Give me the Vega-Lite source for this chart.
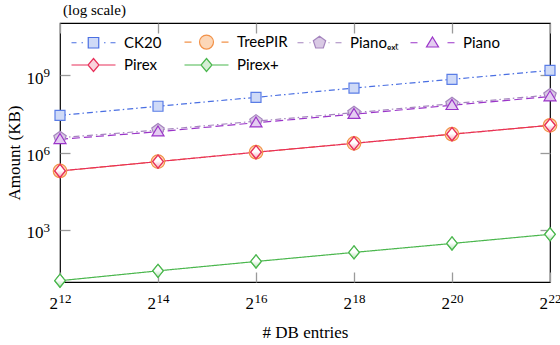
{
  "$schema": "https://vega.github.io/schema/vega-lite/v6.json",
  "width": 490,
  "height": 259,
  "autosize": {"type": "none"},
  "padding": {"left": 60, "top": 23, "right": 10, "bottom": 63},
  "background": "white",
  "title": {"text": "(log scale)", "anchor": "start", "frame": "group", "offset": 4, "dx": 3, "font": "Liberation Serif", "fontSize": 15, "fontWeight": "normal", "color": "black"},
  "config": {
    "view": {"stroke": "black", "strokeWidth": 1.2},
    "axis": {"grid": false, "domain": false, "tickColor": "#9a9a9a", "tickWidth": 1.3, "tickSize": -10, "labelColor": "black", "labelFont": "Liberation Serif", "labelFontSize": 17, "titleFont": "Liberation Serif", "titleFontSize": 17, "titleFontWeight": "normal", "titleColor": "black", "labelFlush": false, "labelOverlap": false}
  },
  "data": {"values": [
    {"series": "CK20", "N": 4096, "amount": 2.8e7},
    {"series": "CK20", "N": 16384, "amount": 6.3e7},
    {"series": "CK20", "N": 65536, "amount": 1.4e8},
    {"series": "CK20", "N": 262144, "amount": 3.2e8},
    {"series": "CK20", "N": 1048576, "amount": 7.0e8},
    {"series": "CK20", "N": 4194304, "amount": 1.55e9},
    {"series": "TreePIR", "N": 4096, "amount": 1.95e5},
    {"series": "TreePIR", "N": 16384, "amount": 4.5e5},
    {"series": "TreePIR", "N": 65536, "amount": 1.04e6},
    {"series": "TreePIR", "N": 262144, "amount": 2.3e6},
    {"series": "TreePIR", "N": 1048576, "amount": 5.2e6},
    {"series": "TreePIR", "N": 4194304, "amount": 1.15e7},
    {"series": "Pianoₑₓₜ", "N": 4096, "amount": 3.8e6},
    {"series": "Pianoₑₓₜ", "N": 16384, "amount": 7.5e6},
    {"series": "Pianoₑₓₜ", "N": 65536, "amount": 1.67e7},
    {"series": "Pianoₑₓₜ", "N": 262144, "amount": 3.55e7},
    {"series": "Pianoₑₓₜ", "N": 1048576, "amount": 7.9e7},
    {"series": "Pianoₑₓₜ", "N": 4194304, "amount": 1.72e8},
    {"series": "Piano", "N": 4096, "amount": 3.3e6},
    {"series": "Piano", "N": 16384, "amount": 6.5e6},
    {"series": "Piano", "N": 65536, "amount": 1.45e7},
    {"series": "Piano", "N": 262144, "amount": 3.1e7},
    {"series": "Piano", "N": 1048576, "amount": 6.9e7},
    {"series": "Piano", "N": 4194304, "amount": 1.5e8},
    {"series": "Pirex", "N": 4096, "amount": 1.95e5},
    {"series": "Pirex", "N": 16384, "amount": 4.5e5},
    {"series": "Pirex", "N": 65536, "amount": 1.04e6},
    {"series": "Pirex", "N": 262144, "amount": 2.3e6},
    {"series": "Pirex", "N": 1048576, "amount": 5.2e6},
    {"series": "Pirex", "N": 4194304, "amount": 1.15e7},
    {"series": "Pirex+", "N": 4096, "amount": 10.8},
    {"series": "Pirex+", "N": 16384, "amount": 26},
    {"series": "Pirex+", "N": 65536, "amount": 60},
    {"series": "Pirex+", "N": 262144, "amount": 135},
    {"series": "Pirex+", "N": 1048576, "amount": 300},
    {"series": "Pirex+", "N": 4194304, "amount": 680}
  ]},
  "layer": [
    {
      "mark": {"type": "line", "strokeWidth": 1.2},
      "encoding": {
        "x": {"field": "N", "type": "quantitative", "scale": {"type": "log", "base": 2, "domain": [4096, 4194304], "nice": false},
          "axis": {"orient": "bottom", "values": [4096, 16384, 65536, 262144, 1048576, 4194304], "labelPadding": 36, "labelBaseline": "alphabetic", "labelAlign": "right", "labelOffset": -2.5, "labelExpr": "'2'", "title": "# DB entries", "titleBaseline": "alphabetic", "titleY": 55, "titleX": 245}},
        "y": {"field": "amount", "type": "quantitative", "scale": {"type": "log", "domain": [9.6, 1.07e11], "nice": false},
          "axis": {"orient": "left", "values": [1000, 1000000, 1000000000], "labelPadding": 27, "labelBaseline": "alphabetic", "labelOffset": 8, "labelExpr": "'10'", "title": "Amount (KB)", "titleBaseline": "alphabetic", "titleX": -41, "titleY": 129.5}},
        "stroke": {"field": "series", "type": "nominal", "legend": null, "sort": ["CK20", "TreePIR", "Pianoₑₓₜ", "Piano", "Pirex", "Pirex+"],
          "scale": {"domain": ["CK20", "TreePIR", "Pianoₑₓₜ", "Piano", "Pirex", "Pirex+"], "range": ["#4a6fe2", "#f2924a", "#a585be", "#9b35c9", "#e8305a", "#4bb74e"]}},
        "strokeDash": {"field": "series", "type": "nominal", "legend": null, "sort": ["CK20", "TreePIR", "Pianoₑₓₜ", "Piano", "Pirex", "Pirex+"],
          "scale": {"domain": ["CK20", "TreePIR", "Pianoₑₓₜ", "Piano", "Pirex", "Pirex+"], "range": [[6, 3, 1.5, 3], [6, 4], [6, 3, 1.5, 3], [8, 4], [1, 0], [1, 0]]}}
      }
    },
    {
      "mark": {"type": "point", "filled": true, "opacity": 1, "strokeWidth": 1.2, "size": 100},
      "encoding": {
        "x": {"field": "N", "type": "quantitative", "scale": {"type": "log", "base": 2, "domain": [4096, 4194304], "nice": false},
          "axis": {"orient": "top", "values": [4096, 16384, 65536, 262144, 1048576, 4194304], "labels": false, "title": null}},
        "y": {"field": "amount", "type": "quantitative", "scale": {"type": "log", "domain": [9.6, 1.07e11], "nice": false},
          "axis": {"orient": "right", "values": [1000, 1000000, 1000000000], "labels": false, "title": null}},
        "stroke": {"field": "series", "type": "nominal", "legend": null, "sort": ["CK20", "TreePIR", "Pianoₑₓₜ", "Piano", "Pirex", "Pirex+"],
          "scale": {"domain": ["CK20", "TreePIR", "Pianoₑₓₜ", "Piano", "Pirex", "Pirex+"], "range": ["#5a7de6", "#f2924a", "#a585be", "#9b35c9", "#e8305a", "#4bb74e"]}},
        "fill": {"field": "series", "type": "nominal", "legend": null, "sort": ["CK20", "TreePIR", "Pianoₑₓₜ", "Piano", "Pirex", "Pirex+"],
          "scale": {"domain": ["CK20", "TreePIR", "Pianoₑₓₜ", "Piano", "Pirex", "Pirex+"], "range": ["#cfdaf7", "#fcd7b8", "#d9c9e4", "#e4cdf1", "#f9d3dd", "#d6eed6"]}},
        "shape": {"field": "series", "type": "nominal", "legend": null, "sort": ["CK20", "TreePIR", "Pianoₑₓₜ", "Piano", "Pirex", "Pirex+"],
          "scale": {"domain": ["CK20", "TreePIR", "Pianoₑₓₜ", "Piano", "Pirex", "Pirex+"], "range": [
            "M-1,-1H1V1H-1Z",
            "M1.35,0A1.35,1.35 0 1 1 -1.35,0A1.35,1.35 0 1 1 1.35,0Z",
            "M0,-1.3L1.236,-0.402L0.764,1.052L-0.764,1.052L-1.236,-0.402Z",
            "M0,-1.15L1.2,0.85L-1.2,0.85Z",
            "M0,-1.3L1.05,0L0,1.3L-1.05,0Z",
            "M0,-1.3L1.05,0L0,1.3L-1.05,0Z"]}}
      }
    },
    {
      "mark": {"type": "point", "filled": true, "opacity": 0, "strokeWidth": 1.2, "size": 100},
      "encoding": {
        "x": {"field": "N", "type": "quantitative", "scale": {"type": "log", "base": 2, "domain": [4096, 4194304], "nice": false},
          "axis": {"orient": "bottom", "values": [4096, 16384, 65536, 262144, 1048576, 4194304], "ticks": false, "labelPadding": 20, "labelBaseline": "alphabetic", "labelAlign": "left", "labelOffset": -2, "labelFontSize": 13, "labelExpr": "format(log(datum.value)/log(2), 'd')", "title": null}},
        "y": {"field": "amount", "type": "quantitative", "scale": {"type": "log", "domain": [9.6, 1.07e11], "nice": false},
          "axis": {"orient": "left", "values": [1000, 1000000, 1000000000], "ticks": false, "labelPadding": 17, "labelAlign": "left", "labelBaseline": "alphabetic", "labelOffset": 1.5, "labelFontSize": 13, "labelExpr": "format(log(datum.value)/log(10), 'd')", "title": null}},
        "stroke": {"field": "series", "type": "nominal", "sort": ["CK20", "TreePIR", "Pianoₑₓₜ", "Piano", "Pirex", "Pirex+"],
          "scale": {"domain": ["CK20", "TreePIR", "Pianoₑₓₜ", "Piano", "Pirex", "Pirex+"], "range": ["#4a6fe2", "#f2924a", "#a585be", "#9b35c9", "#e8305a", "#4bb74e"]}},
        "fill": {"field": "series", "type": "nominal", "sort": ["CK20", "TreePIR", "Pianoₑₓₜ", "Piano", "Pirex", "Pirex+"],
          "scale": {"domain": ["CK20", "TreePIR", "Pianoₑₓₜ", "Piano", "Pirex", "Pirex+"], "range": ["#cfdaf7", "#fcd7b8", "#d9c9e4", "#e4cdf1", "#f9d3dd", "#d6eed6"]}},
        "shape": {"field": "series", "type": "nominal", "sort": ["CK20", "TreePIR", "Pianoₑₓₜ", "Piano", "Pirex", "Pirex+"],
          "scale": {"domain": ["CK20", "TreePIR", "Pianoₑₓₜ", "Piano", "Pirex", "Pirex+"], "range": [
            "M-4.4,0H-3.4M-2.4,0H-2.1M-1.05,-1.05H1.05V1.05H-1.05ZM2.1,0H2.4M3.4,0H4.4",
            "M-4.4,0H-3.0M1.4,0A1.4,1.4 0 1 1 -1.4,0A1.4,1.4 0 1 1 1.4,0ZM3.0,0H4.4",
            "M-4.4,0H-3.2M-2.0,0H-1.8M0,-1.3L1.236,-0.402L0.764,1.052L-0.764,1.052L-1.236,-0.402ZM1.8,0H2.0M3.2,0H4.4",
            "M-4.4,0H-3.0M0,-1.15L1.2,0.85L-1.2,0.85ZM3.0,0H4.4",
            "M-4.4,0H-1.1M0,-1.3L1.1,0L0,1.3L-1.1,0ZM1.1,0H4.4",
            "M-4.4,0H-1.1M0,-1.3L1.1,0L0,1.3L-1.1,0ZM1.1,0H4.4"]},
          "legend": {"title": null, "orient": "none", "direction": "horizontal", "values": ["CK20", "TreePIR", "Pianoₑₓₜ", "Piano", "Pirex", "Pirex+"], "legendX": 13, "legendY": 11.5, "columns": 4, "gridAlign": "all", "symbolSize": 100, "symbolStrokeWidth": 1.2, "symbolOpacity": 1, "symbolOffset": 13, "labelOffset": 23, "labelFont": "Lato", "labelFontSize": 15, "labelColor": "black", "columnPadding": 7, "rowPadding": 4, "padding": 0}}
      }
    },
    {
      "transform": [{"filter": "datum.series == 'Pirex'"}],
      "mark": {"type": "point", "filled": true, "opacity": 1, "strokeWidth": 1.2, "size": 100, "shape": "M0,-1.3L1.05,0L0,1.3L-1.05,0Z", "stroke": "#e8305a",
        "fill": {"gradient": "linear", "x1": 0, "y1": 0, "x2": 0, "y2": 1, "stops": [{"offset": 0, "color": "#ffffff"}, {"offset": 0.45, "color": "#ffffff"}, {"offset": 1, "color": "#f5a9bd"}]}},
      "encoding": {
        "x": {"field": "N", "type": "quantitative", "scale": {"type": "log", "base": 2, "domain": [4096, 4194304], "nice": false}, "axis": null},
        "y": {"field": "amount", "type": "quantitative", "scale": {"type": "log", "domain": [9.6, 1.07e11], "nice": false}, "axis": null}
      }
    },
    {
      "transform": [{"filter": "datum.series == 'Pirex+'"}],
      "mark": {"type": "point", "filled": true, "opacity": 1, "strokeWidth": 1.2, "size": 100, "shape": "M0,-1.3L1.05,0L0,1.3L-1.05,0Z", "stroke": "#4bb74e",
        "fill": {"gradient": "linear", "x1": 0, "y1": 0, "x2": 0, "y2": 1, "stops": [{"offset": 0, "color": "#ffffff"}, {"offset": 0.45, "color": "#ffffff"}, {"offset": 1, "color": "#b9e2b9"}]}},
      "encoding": {
        "x": {"field": "N", "type": "quantitative", "scale": {"type": "log", "base": 2, "domain": [4096, 4194304], "nice": false}, "axis": null},
        "y": {"field": "amount", "type": "quantitative", "scale": {"type": "log", "domain": [9.6, 1.07e11], "nice": false}, "axis": null}
      }
    }
  ],
  "resolve": {
    "scale": {"shape": "independent", "fill": "independent", "stroke": "independent", "strokeDash": "independent"},
    "axis": {"x": "independent", "y": "independent"}
  }
}
